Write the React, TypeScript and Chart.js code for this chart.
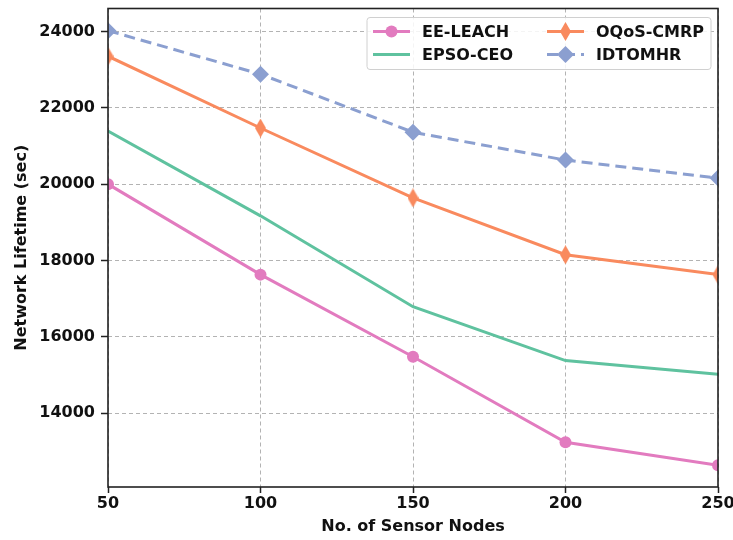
import React, { useEffect, useRef } from "react";
import { Chart, registerables } from "chart.js";

Chart.register(...registerables);

// ---- data ----
const nodeCounts = [50, 100, 150, 200, 250];
const eeLeach = [20000, 17630, 15480, 13240, 12640];
const epsoCeo = [21390, 19170, 16790, 15380, 15020];
const oqosCmrp = [23350, 21470, 19640, 18150, 17630];
const idtomhr = [24020, 22880, 21360, 20630, 20160];
const seriesNames = ["EE-LEACH", "EPSO-CEO", "OQoS-CMRP", "IDTOMHR"];
const xTicks = [50, 100, 150, 200, 250];
const yTicks = [14000, 16000, 18000, 20000, 22000, 24000];
const xTitle = "No. of Sensor Nodes";
const yTitle = "Network Lifetime (sec)";

const PINK = "#e27bbf";
const GREEN = "#5fc29f";
const ORANGE = "#f98a5e";
const BLUE = "#8b9fd0";
const FONT = "'DejaVu Sans', sans-serif";

function thinDiamond(color: string, w: number, h: number) {
  const c = document.createElement("canvas");
  c.width = w;
  c.height = h;
  const g = c.getContext("2d")!;
  g.fillStyle = color;
  g.beginPath();
  g.moveTo(w / 2, 0);
  g.lineTo(w, h / 2);
  g.lineTo(w / 2, h);
  g.lineTo(0, h / 2);
  g.closePath();
  g.fill();
  return c;
}

const framePlugin = {
  id: "frame",
  afterDatasetsDraw(chart: any) {
    const { ctx, chartArea } = chart;
    ctx.save();
    ctx.strokeStyle = "#222";
    ctx.lineWidth = 1.6;
    ctx.setLineDash([]);
    ctx.strokeRect(chartArea.left, chartArea.top, chartArea.right - chartArea.left, chartArea.bottom - chartArea.top);
    ctx.restore();
  },
};

const legendPlugin = {
  id: "insideLegend",
  afterDraw(chart: any) {
    const { ctx, chartArea } = chart;
    const boxW = 344;
    const boxH = 52;
    const x0 = chartArea.right - 7 - boxW;
    const y0 = chartArea.top + 9;
    ctx.save();
    ctx.beginPath();
    const r = 3;
    ctx.moveTo(x0 + r, y0);
    ctx.lineTo(x0 + boxW - r, y0);
    ctx.quadraticCurveTo(x0 + boxW, y0, x0 + boxW, y0 + r);
    ctx.lineTo(x0 + boxW, y0 + boxH - r);
    ctx.quadraticCurveTo(x0 + boxW, y0 + boxH, x0 + boxW - r, y0 + boxH);
    ctx.lineTo(x0 + r, y0 + boxH);
    ctx.quadraticCurveTo(x0, y0 + boxH, x0, y0 + boxH - r);
    ctx.lineTo(x0, y0 + r);
    ctx.quadraticCurveTo(x0, y0, x0 + r, y0);
    ctx.closePath();
    ctx.fillStyle = "rgba(255,255,255,0.85)";
    ctx.fill();
    ctx.strokeStyle = "#d0d0d0";
    ctx.lineWidth = 1;
    ctx.stroke();

    const cols = [6, 180];
    const rows = [14, 37];
    const order = [0, 1, 2, 3];
    order.forEach((di, k) => {
      const ds = chart.data.datasets[di];
      const col = Math.floor(k / 2);
      const row = k % 2;
      const lx = x0 + cols[col];
      const ly = y0 + rows[row];
      const len = 37;
      ctx.strokeStyle = ds.borderColor;
      ctx.lineWidth = ds.borderWidth;
      ctx.setLineDash(ds.borderDash || []);
      ctx.beginPath();
      ctx.moveTo(lx, ly);
      ctx.lineTo(lx + len, ly);
      ctx.stroke();
      ctx.setLineDash([]);
      const cx = lx + len / 2;
      const ps = ds.pointStyle;
      const rad = ds.pointRadius;
      ctx.fillStyle = ds.pointBackgroundColor;
      if (rad > 0) {
        if (ps === "circle") {
          ctx.beginPath();
          ctx.arc(cx, ly, rad, 0, Math.PI * 2);
          ctx.fill();
        } else if (ps === "rectRot") {
          ctx.beginPath();
          ctx.moveTo(cx, ly - rad);
          ctx.lineTo(cx + rad, ly);
          ctx.lineTo(cx, ly + rad);
          ctx.lineTo(cx - rad, ly);
          ctx.closePath();
          ctx.fill();
        } else if (ps instanceof HTMLCanvasElement) {
          ctx.drawImage(ps, cx - ps.width / 2, ly - ps.height / 2);
        }
      }
      ctx.fillStyle = "#111";
      ctx.font = `bold 16px ${FONT}`;
      ctx.textBaseline = "middle";
      ctx.textAlign = "left";
      ctx.fillText(ds.label, lx + 49, ly + 1);
    });
    ctx.restore();
  },
};

export default function App() {
  const ref = useRef<HTMLCanvasElement>(null);
  useEffect(() => {
    const canvas = ref.current!;
    const orangeDiamond = thinDiamond(ORANGE, 11, 19);
    const mk = (vals: number[]) => vals.map((v, i) => ({ x: nodeCounts[i], y: v }));
    const chart = new Chart(canvas, {
      type: "line",
      data: {
        datasets: [
          {
            label: seriesNames[0],
            data: mk(eeLeach),
            borderColor: PINK,
            backgroundColor: PINK,
            pointBackgroundColor: PINK,
            pointBorderWidth: 0,
            borderWidth: 3,
            pointStyle: "circle",
            pointRadius: 6,
            clip: 0,
          },
          {
            label: seriesNames[1],
            data: mk(epsoCeo),
            borderColor: GREEN,
            backgroundColor: GREEN,
            pointBackgroundColor: GREEN,
            borderWidth: 3,
            pointRadius: 0,
            clip: 0,
          },
          {
            label: seriesNames[2],
            data: mk(oqosCmrp),
            borderColor: ORANGE,
            backgroundColor: ORANGE,
            pointBackgroundColor: ORANGE,
            pointBorderWidth: 0,
            borderWidth: 3,
            pointStyle: orangeDiamond as any,
            pointRadius: 6,
            clip: 0,
          },
          {
            label: seriesNames[3],
            data: mk(idtomhr),
            borderColor: BLUE,
            backgroundColor: BLUE,
            pointBackgroundColor: BLUE,
            pointBorderWidth: 0,
            borderWidth: 3,
            borderDash: [11, 6],
            pointStyle: "rectRot",
            pointRadius: 8.5,
            clip: 0,
          },
        ] as any,
      },
      options: {
        animation: false,
        responsive: false,
        events: [],
        layout: { padding: { left: 0, top: 7, right: 15, bottom: 0 } },
        plugins: { legend: { display: false }, tooltip: { enabled: false } },
        scales: {
          x: {
            type: "linear",
            min: 50,
            max: 250,
            afterBuildTicks: (s: any) => {
              s.ticks = xTicks.map((v) => ({ value: v }));
            },
            afterFit: (s: any) => {
              s.height = 53;
              s.paddingLeft = 0;
              s.paddingRight = 0;
            },
            border: { display: false, dash: [4, 3] },
            grid: {
              color: "#b3b3b3",
              lineWidth: 1,
              tickColor: "#222",
              tickWidth: 1.5,
              tickLength: 6,
              tickBorderDash: [],
            },
            ticks: {
              color: "#111",
              font: { family: FONT, size: 16, weight: "bold" },
              padding: 1,
              maxRotation: 0,
              autoSkip: false,
              callback: (v: any) => String(v),
            },
            title: {
              display: true,
              text: xTitle,
              color: "#111",
              font: { family: FONT, size: 16, weight: "bold" },
              padding: { top: 0, bottom: 4 },
            },
          },
          y: {
            type: "linear",
            min: 12068,
            max: 24600,
            afterBuildTicks: (s: any) => {
              s.ticks = yTicks.map((v) => ({ value: v }));
            },
            afterFit: (s: any) => {
              s.width = 108;
              s.paddingTop = 0;
              s.paddingBottom = 0;
            },
            border: { display: false, dash: [4, 3] },
            grid: {
              color: "#b3b3b3",
              lineWidth: 1,
              tickColor: "#222",
              tickWidth: 1.5,
              tickLength: 7,
              tickBorderDash: [],
            },
            ticks: {
              color: "#111",
              font: { family: FONT, size: 16, weight: "bold" },
              padding: 6,
              autoSkip: false,
              callback: (v: any) => String(v),
            },
            title: {
              display: true,
              text: yTitle,
              color: "#111",
              font: { family: FONT, size: 16, weight: "bold" },
              padding: { top: 12, bottom: 0 },
            },
          },
        },
      } as any,
      plugins: [framePlugin, legendPlugin],
    });
    return () => chart.destroy();
  }, []);
  return (
    <div style={{ position: "fixed", left: 0, top: 0, width: 733, height: 540, background: "#fff" }}>
      <canvas ref={ref} width={733} height={540} />
    </div>
  );
}
